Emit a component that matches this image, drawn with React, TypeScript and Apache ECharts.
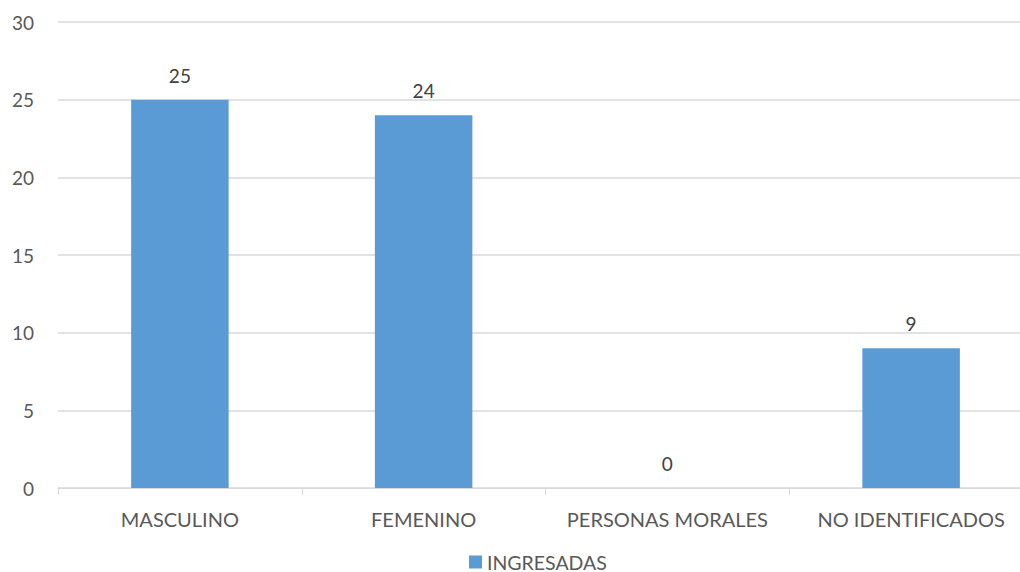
import React, { useEffect, useRef } from "react";
import * as echarts from "echarts";

const categories = ["MASCULINO", "FEMENINO", "PERSONAS MORALES", "NO IDENTIFICADOS"];
const ingresadas = [25, 24, 0, 9];
const seriesName = "INGRESADAS";

export default function App() {
  const ref = useRef<HTMLDivElement>(null);
  useEffect(() => {
    if (!ref.current) return;
    const chart = echarts.init(ref.current, null, { renderer: "svg" });
    const font = "Lato, sans-serif";
    chart.setOption({
      animation: false,
      textStyle: { fontFamily: font },
      legend: {
        data: [seriesName],
        top: 552,
        left: 469,
        icon: "rect",
        itemWidth: 13,
        itemHeight: 13,
        itemGap: 5,
        padding: 0,
        textStyle: { color: "#595959", fontSize: 19.5, fontFamily: font },
      },
      grid: { left: 58, right: 7, top: 22, bottom: 84, containLabel: false },
      xAxis: {
        type: "category",
        data: categories,
        axisLine: { lineStyle: { color: "#d9d9d9", width: 1 } },
        axisTick: { show: true, length: 7, lineStyle: { color: "#d9d9d9" } },
        axisLabel: { color: "#595959", fontSize: 20, margin: 21, interval: 0, fontFamily: font },
      },
      yAxis: {
        type: "value",
        min: 0,
        max: 30,
        interval: 5,
        axisLine: { show: false },
        axisTick: { show: false },
        splitLine: { lineStyle: { color: "#d9d9d9", width: 1.5 } },
        axisLabel: { color: "#595959", fontSize: 19, margin: 24, fontFamily: font },
      },
      series: [
        {
          name: seriesName,
          type: "bar",
          data: ingresadas,
          barWidth: "40%",
          itemStyle: { color: "#5b9bd5" },
          label: {
            show: true,
            position: "top",
            distance: 15,
            color: "#404040",
            fontSize: 19,
            fontFamily: font,
          },
        },
      ],
    });
    return () => chart.dispose();
  }, []);
  return (
    <div style={{ position: "fixed", left: 0, top: 0, width: 1020, height: 572, overflow: "hidden", background: "#fff" }}>
      <div ref={ref} style={{ width: 1040, height: 572 }} />
    </div>
  );
}
